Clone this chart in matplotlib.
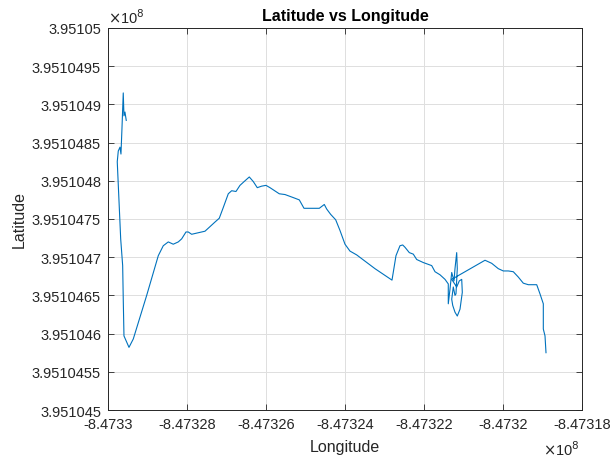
import matplotlib.pyplot as plt
from matplotlib.ticker import FuncFormatter

# GPS track (raw integer coordinates, degrees * 1e8)
longitude = [
    -847329537, -847329570, -847329595, -847329613, -847329646, -847329671,
    -847329696, -847329739, -847329765, -847329678, -847329628, -847329613,
    -847329595, -847329527, -847329468, -847329359, -847329020, -847328726,
    -847328600, -847328473, -847328347, -847328220, -847328134, -847328025,
    -847327967, -847327881, -847327714, -847327544, -847327417, -847327291,
    -847327182, -847327081, -847326954, -847326868, -847326759, -847326658,
    -847326531, -847326422, -847326321, -847326220, -847326108, -847325999,
    -847325898, -847325663, -847325518, -847325308, -847325156, -847325037,
    -847324650, -847324523, -847324462, -847324361, -847324235, -847324126,
    -847323999, -847323873, -847323703, -847323240, -847322809, -847322708,
    -847322607, -847322538, -847322480, -847322371, -847322270, -847322184,
    -847322017, -847321804, -847321720, -847321594, -847321467, -847321384,
    -847321384, -847321341, -847321297, -847321239, -847321214, -847321171,
    -847321156, -847321189, -847321214, -847321257, -847321297, -847321272,
    -847321214, -847321156, -847321087, -847321029, -847321044, -847321105,
    -847321171, -847321297, -847320454, -847320285, -847320118, -847319991,
    -847319864, -847319738, -847319611, -847319485, -847319358, -847319145,
    -847319062, -847318978, -847318978, -847318935, -847318910,
]
latitude = [
    395104879, 395104890, 395104885, 395104915, 395104868, 395104835,
    395104844, 395104839, 395104825, 395104724, 395104689, 395104645,
    395104597, 395104589, 395104582, 395104593, 395104650, 395104702,
    395104715, 395104720, 395104717, 395104720, 395104724, 395104733,
    395104733, 395104730, 395104732, 395104734, 395104740, 395104746,
    395104751, 395104765, 395104783, 395104787, 395104786, 395104794,
    395104800, 395104805, 395104799, 395104791, 395104793, 395104794,
    395104791, 395104783, 395104782, 395104778, 395104775, 395104764,
    395104764, 395104769, 395104763, 395104756, 395104749, 395104735,
    395104717, 395104708, 395104703, 395104685, 395104670, 395104702,
    395104715, 395104716, 395104713, 395104706, 395104704, 395104697,
    395104693, 395104689, 395104681, 395104677, 395104671, 395104665,
    395104639, 395104658, 395104680, 395104669, 395104685, 395104706,
    395104685, 395104652, 395104650, 395104661, 395104645, 395104637,
    395104628, 395104623, 395104632, 395104654, 395104671, 395104669,
    395104661, 395104671, 395104696, 395104692, 395104685, 395104682,
    395104682, 395104681, 395104674, 395104666, 395104664, 395104664,
    395104652, 395104639, 395104606, 395104597, 395104575,
]

x_limits = (-847330000, -847318000)
y_limits = (395104500, 395105000)
x_ticks = list(range(-847330000, -847318000 + 1, 2000))
y_ticks = list(range(395104500, 395105000 + 1, 50))

plt.rcParams['font.family'] = ['Liberation Sans', 'DejaVu Sans']
dark = '#262626'

fig = plt.figure(figsize=(6.1, 4.6), dpi=100)
ax = fig.add_axes([0.177, 0.1065, 0.777, 0.8305])
ax.plot(longitude, latitude, color='#0072BD', linewidth=0.8)

ax.set_xlim(x_limits)
ax.set_ylim(y_limits)
ax.set_xticks(x_ticks)
ax.set_yticks(y_ticks)
ax.xaxis.set_major_formatter(FuncFormatter(lambda v, p: '%.8g' % (v / 1e8)))
ax.yaxis.set_major_formatter(FuncFormatter(lambda v, p: '%.8g' % (v / 1e8)))

ax.grid(True, color='#dfdfdf', linewidth=0.7)
ax.tick_params(direction='in', top=True, right=True, length=4,
               width=0.6, colors=dark, labelsize=10.5, pad=5)
for s in ax.spines.values():
    s.set_color(dark)
    s.set_linewidth(0.7)

ax.set_xlabel('Longitude', fontsize=11.5, color=dark, labelpad=6)
ax.set_ylabel('Latitude', fontsize=11.5, color=dark, labelpad=4)
ax.set_title('Latitude vs Longitude', fontsize=11.5, fontweight='bold', pad=6)

# exponent markers
ax.text(0.0, 1.005, r'$\times$10$^{8}$', transform=ax.transAxes,
        fontsize=10.5, color=dark, ha='left', va='bottom')
ax.text(0.995, -0.077, r'$\times$10$^{8}$', transform=ax.transAxes,
        fontsize=10.5, color=dark, ha='right', va='top')

fig.savefig('out.png', dpi=100)
